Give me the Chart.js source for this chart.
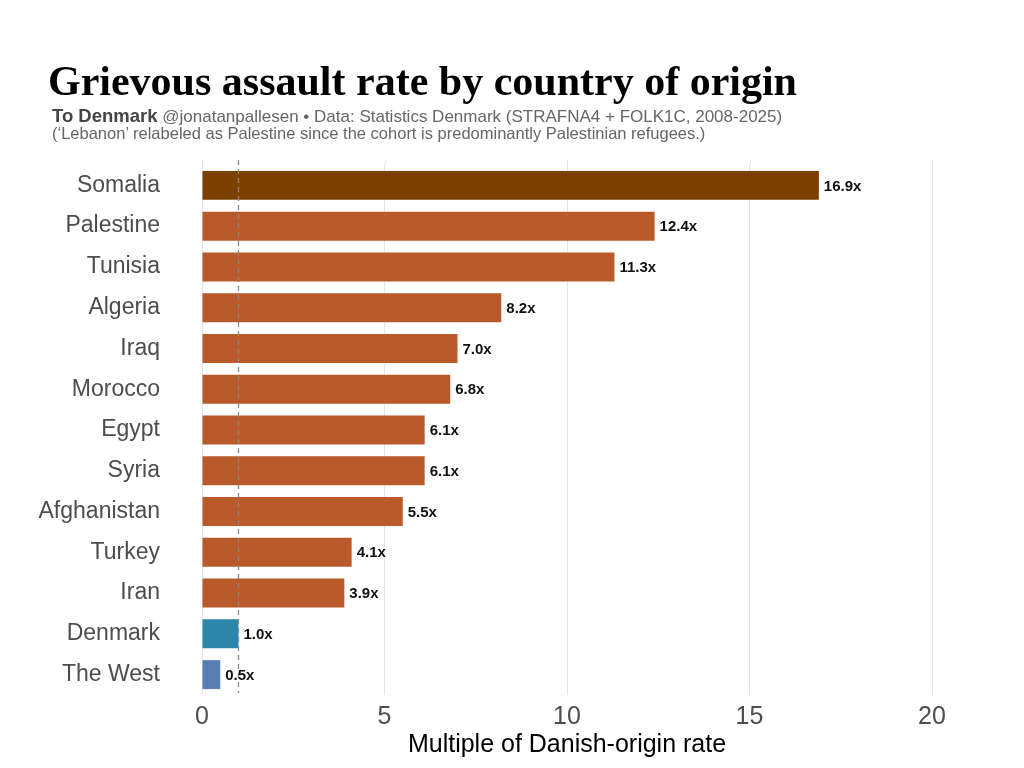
<!DOCTYPE html>
<html><head><meta charset="utf-8">
<script src="https://cdn.jsdelivr.net/npm/chart.js@4/dist/chart.umd.min.js"></script>
<style>
html,body{margin:0;padding:0;background:#fff;width:1024px;height:768px;overflow:hidden;}
#wrap{position:absolute;left:0;top:0;width:1024px;height:768px;}
#title{position:absolute;left:48px;top:57px;font-family:"Liberation Serif",serif;font-weight:bold;font-size:42px;color:#000;white-space:nowrap;}
#sub1{position:absolute;left:52px;top:105px;font-family:"Liberation Sans",Arial,sans-serif;font-size:17px;color:#666;white-space:nowrap;}
#sub1 b{font-size:18.5px;color:#444;}
#sub2{position:absolute;left:52px;top:124px;font-family:"Liberation Sans",Arial,sans-serif;font-size:16.5px;color:#666;white-space:nowrap;}
</style></head>
<body>
<div id="wrap"><canvas id="c" width="1024" height="768"></canvas></div>
<div id="title">Grievous assault rate by country of origin</div>
<div id="sub1"><b>To Denmark</b> @jonatanpallesen • Data: Statistics Denmark (STRAFNA4 + FOLK1C, 2008-2025)</div>
<div id="sub2">(‘Lebanon’ relabeled as Palestine since the cohort is predominantly Palestinian refugees.)</div>
<script>
const countries = ["Somalia","Palestine","Tunisia","Algeria","Iraq","Morocco","Egypt","Syria","Afghanistan","Turkey","Iran","Denmark","The West"];
const rates = [16.9,12.4,11.3,8.2,7.0,6.8,6.1,6.1,5.5,4.1,3.9,1.0,0.5];
const barColors = ["#7b3f00","#b85a2a","#b85a2a","#b85a2a","#b85a2a","#b85a2a","#b85a2a","#b85a2a","#b85a2a","#b85a2a","#b85a2a","#2e86ab","#5b7db5"];
const xTicks = [0,5,10,15,20];
const referenceRate = 1.0;

const overlay = {
  id:'overlay',
  afterDatasetsDraw(chart){
    const ctx = chart.ctx, x = chart.scales.x, area = chart.chartArea;
    const px = x.getPixelForValue(referenceRate);
    ctx.save();
    ctx.strokeStyle = '#888';
    ctx.lineWidth = 1.3;
    ctx.setLineDash([5,4]);
    ctx.beginPath(); ctx.moveTo(px, area.top - 5); ctx.lineTo(px, area.bottom - 2); ctx.stroke();
    ctx.restore();
    const meta = chart.getDatasetMeta(0);
    ctx.save();
    ctx.font = 'bold 15px "Liberation Sans", Arial, sans-serif';
    ctx.fillStyle = '#111';
    ctx.textAlign = 'left'; ctx.textBaseline = 'middle';
    meta.data.forEach((bar,i)=>{
      ctx.fillText(rates[i].toFixed(1)+'x', bar.x + 5, bar.y + 1);
    });
    ctx.restore();
  }
};

const gridExt = {
  id:'gridExt',
  beforeDatasetsDraw(chart){
    const ctx = chart.ctx, x = chart.scales.x, area = chart.chartArea;
    ctx.save();
    ctx.strokeStyle = '#e6e6e6'; ctx.lineWidth = 1;
    xTicks.forEach(v=>{
      const px = Math.round(x.getPixelForValue(v)) + 0.5;
      ctx.beginPath(); ctx.moveTo(px, area.top - 5); ctx.lineTo(px, area.top); ctx.stroke();
    });
    ctx.restore();
  }
};

new Chart(document.getElementById('c'), {
  type:'bar',
  data:{labels:countries, datasets:[{data:rates, backgroundColor:barColors, barPercentage:0.71, categoryPercentage:1.0}]},
  options:{
    indexAxis:'y', responsive:false, animation:false,
    layout:{padding:{top:165, right:92, left:0, bottom:8}},
    plugins:{legend:{display:false}, tooltip:{enabled:false}},
    scales:{
      x:{min:0, max:20, afterBuildTicks(s){ s.ticks = xTicks.map(v=>({value:v})); },
        afterFit(s){ s.height = 65; },
        grid:{color:'#e6e6e6', lineWidth:1, drawTicks:false},
        border:{display:false},
        ticks:{font:{family:'"Liberation Sans", Arial, sans-serif', size:25}, color:'#4d4d4d', padding:7},
        title:{display:true, text:'Multiple of Danish-origin rate', font:{family:'"Liberation Sans", Arial, sans-serif', size:25}, color:'#000', padding:{top:0,bottom:0}}
      },
      y:{grid:{display:false, drawTicks:false}, border:{display:false},
        afterFit(s){ s.width = 202; },
        ticks:{font:{family:'"Liberation Sans", Arial, sans-serif', size:23}, color:'#4d4d4d', padding:42}
      }
    }
  },
  plugins:[gridExt, overlay]
});
</script>
</body></html>
